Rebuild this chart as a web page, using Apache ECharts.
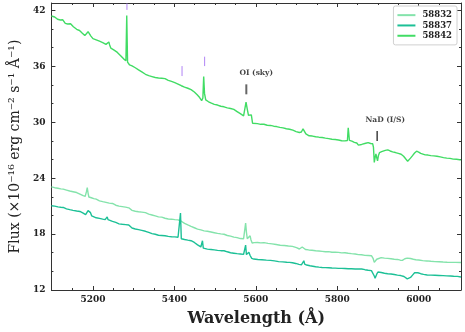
<!DOCTYPE html>
<html><head><meta charset="utf-8">
<script src="https://cdn.jsdelivr.net/npm/echarts@6/dist/echarts.min.js"></script>
<style>html,body{margin:0;padding:0;background:#fff}#c{width:465px;height:332px}</style>
</head><body><div id="c"></div>
<script>
// ---- data (wavelength Å, flux 1e-16 erg/cm2/s/Å) ----
const seriesNames = ['58832', '58837', '58842'];

const spec58842 = [
[5098,41.40],[5106,41.30],[5113,41.05],[5120,40.98],[5126,41.00],[5132,40.62],[5138,40.55],[5145,40.58],
[5152,40.25],[5160,39.98],[5167,39.85],[5174,39.55],[5180,39.30],[5184,39.45],[5188,39.72],[5191,39.65],
[5195,39.25],[5200,38.98],[5208,38.85],[5216,38.70],[5224,38.55],[5232,38.36],[5236,38.55],[5239,38.62],
[5241,38.30],[5244,37.95],[5252,37.75],[5260,37.50],[5268,37.15],[5276,36.78],[5281,36.60],[5283,41.45],
[5285,36.45],[5290,36.15],[5296,36.05],[5304,35.85],[5312,35.62],[5320,35.40],[5329,35.15],[5337,35.00],
[5345,34.90],[5353,34.80],[5361,34.75],[5369,34.72],[5377,34.68],[5385,34.50],[5393,34.38],[5401,34.25],
[5409,34.10],[5417,33.92],[5425,33.78],[5433,33.65],[5441,33.50],[5449,33.25],[5456,32.95],[5462,32.65],
[5467,32.32],[5470,32.60],[5472,34.90],[5474,33.10],[5477,32.40],[5484,32.20],[5491,32.05],[5498,31.92],
[5506,31.85],[5514,31.72],[5522,31.66],[5530,31.55],[5538,31.48],[5546,31.38],[5554,31.15],[5562,30.92],
[5570,30.68],[5574,30.55],[5576,32.15],[5579,31.40],[5582,30.75],[5586,30.95],[5589,30.80],[5592,29.90],
[5596,29.82],[5604,29.85],[5612,29.78],[5620,29.79],[5628,29.68],[5636,29.66],[5644,29.58],[5651,29.54],
[5659,29.45],[5667,29.40],[5675,29.30],[5683,29.25],[5691,29.15],[5699,29.00],[5707,28.90],[5712,28.95],
[5716,29.30],[5719,29.25],[5723,28.75],[5731,28.55],[5739,28.52],[5747,28.45],[5755,28.40],[5763,28.36],
[5771,28.30],[5779,28.25],[5787,28.18],[5795,28.15],[5803,28.10],[5811,28.02],[5819,28.00],[5825,28.05],
[5827,29.40],[5830,28.05],[5836,27.98],[5842,27.85],[5848,27.78],[5852,27.55],[5856,27.46],[5860,27.62],
[5864,27.80],[5870,27.75],[5876,27.82],[5882,27.72],[5887,27.70],[5889,27.30],[5891,25.70],[5893,26.20],
[5895,26.60],[5897,26.20],[5899,25.85],[5901,26.40],[5904,26.75],[5909,26.85],[5913,26.93],[5918,26.98],
[5924,27.04],[5930,26.92],[5936,26.82],[5943,26.75],[5950,26.66],[5957,26.57],[5963,26.35],[5968,26.08],
[5973,25.82],[5976,25.90],[5980,26.15],[5985,26.42],[5990,26.70],[5995,26.90],[6000,26.80],[6005,26.66],
[6009,26.57],[6016,26.50],[6023,26.48],[6030,26.42],[6037,26.39],[6045,26.35],[6053,26.28],[6061,26.21],
[6069,26.15],[6077,26.12],[6085,26.05],[6093,26.03],[6101,25.98],[6104,25.97]
];

const spec58832 = [
[5098,23.07],[5106,22.98],[5114,22.92],[5121,22.85],[5127,22.82],[5135,22.72],[5143,22.62],[5151,22.55],
[5160,22.46],[5168,22.30],[5176,22.12],[5181,22.05],[5184,22.55],[5186,22.98],[5188,22.40],[5190,21.98],
[5196,21.90],[5202,21.80],[5208,21.75],[5216,21.57],[5224,21.48],[5232,21.40],[5240,21.32],[5248,21.29],
[5256,21.10],[5264,21.00],[5272,20.95],[5280,20.90],[5288,20.82],[5296,20.55],[5304,20.45],[5312,20.40],
[5320,20.36],[5329,20.30],[5337,20.15],[5345,20.05],[5353,19.95],[5361,19.85],[5369,19.82],[5377,19.70],
[5385,19.62],[5393,19.60],[5401,19.55],[5409,19.52],[5417,19.38],[5425,19.15],[5433,18.98],[5441,18.82],
[5449,18.68],[5457,18.54],[5465,18.45],[5473,18.35],[5481,18.30],[5490,18.22],[5498,18.15],[5506,18.08],
[5514,18.02],[5522,17.98],[5530,17.85],[5538,17.78],[5546,17.68],[5554,17.62],[5562,17.52],[5570,17.50],
[5573,17.60],[5575,19.18],[5577,18.20],[5579,17.50],[5583,17.55],[5586,17.82],[5588,17.40],[5591,17.05],
[5596,17.08],[5604,17.10],[5612,17.06],[5620,17.08],[5630,17.00],[5640,16.95],[5650,16.88],[5660,16.80],
[5670,16.78],[5680,16.72],[5690,16.68],[5700,16.55],[5707,16.40],[5711,16.38],[5714,16.62],[5717,16.42],
[5722,16.35],[5730,16.30],[5738,16.26],[5747,16.21],[5755,16.18],[5763,16.15],[5771,16.10],[5779,16.12],
[5787,16.05],[5795,16.06],[5803,16.04],[5811,15.98],[5819,16.00],[5827,15.94],[5835,15.90],[5844,15.86],
[5852,15.80],[5860,15.78],[5868,15.72],[5876,15.70],[5884,15.68],[5888,15.40],[5891,14.96],[5894,15.10],
[5897,15.30],[5900,15.50],[5908,15.48],[5916,15.42],[5924,15.39],[5932,15.35],[5940,15.30],[5948,15.28],
[5955,15.20],[5960,15.18],[5966,15.35],[5972,15.42],[5980,15.38],[5987,15.30],[5993,15.25],[6000,15.22],
[6010,15.15],[6020,15.12],[6030,15.08],[6040,15.05],[6050,15.03],[6060,15.00],[6070,14.98],[6080,14.97],
[6090,14.96],[6104,14.95]
];

const spec58837 = [
[5098,21.04],[5106,21.00],[5114,20.92],[5121,20.88],[5127,20.86],[5135,20.71],[5143,20.62],[5151,20.55],
[5160,20.48],[5168,20.43],[5176,20.25],[5182,20.08],[5185,20.20],[5188,20.52],[5191,20.55],[5194,20.30],
[5197,19.95],[5200,19.85],[5208,19.75],[5216,19.68],[5224,19.60],[5230,19.55],[5233,19.62],[5235,19.85],
[5237,19.55],[5240,19.40],[5248,19.36],[5256,19.25],[5264,19.10],[5272,19.05],[5280,19.02],[5288,18.98],
[5296,18.65],[5304,18.55],[5312,18.48],[5320,18.40],[5329,18.30],[5337,18.18],[5345,18.05],[5353,17.98],
[5361,17.88],[5369,17.85],[5377,17.82],[5385,17.75],[5393,17.72],[5401,17.70],[5409,17.66],[5413,17.64],
[5415,20.25],[5417,17.50],[5425,17.42],[5433,17.35],[5441,17.29],[5449,17.10],[5457,16.85],[5465,16.62],
[5467,16.60],[5469,17.29],[5471,16.50],[5475,16.42],[5481,16.39],[5490,16.35],[5498,16.30],[5506,16.25],
[5514,16.22],[5522,16.21],[5530,16.10],[5538,16.00],[5546,15.95],[5554,15.90],[5562,15.86],[5570,15.82],
[5573,15.75],[5575,16.82],[5577,15.80],[5580,15.68],[5583,16.04],[5586,15.70],[5590,15.39],[5595,15.32],
[5605,15.28],[5615,15.25],[5626,15.21],[5636,15.18],[5646,15.12],[5656,15.05],[5666,15.02],[5676,14.98],
[5683,14.96],[5690,14.92],[5698,14.85],[5706,14.75],[5712,14.70],[5715,14.75],[5718,15.14],[5720,14.78],
[5725,14.68],[5733,14.60],[5740,14.55],[5747,14.50],[5755,14.45],[5763,14.42],[5771,14.40],[5779,14.38],
[5787,14.36],[5795,14.35],[5803,14.32],[5811,14.32],[5819,14.30],[5827,14.28],[5835,14.28],[5844,14.26],
[5852,14.25],[5860,14.25],[5868,14.18],[5876,14.12],[5884,14.08],[5888,14.02],[5891,13.50],[5893,13.25],
[5895,13.45],[5897,13.70],[5900,13.93],[5908,13.88],[5916,13.80],[5924,13.75],[5932,13.71],[5940,13.66],
[5948,13.60],[5956,13.55],[5964,13.45],[5968,13.30],[5972,13.20],[5976,13.18],[5980,13.35],[5985,13.60],
[5990,13.85],[5993,13.93],[5998,13.85],[6005,13.75],[6012,13.68],[6021,13.61],[6030,13.60],[6040,13.58],
[6050,13.56],[6060,13.54],[6069,13.52],[6078,13.50],[6086,13.48],[6095,13.46],[6104,13.40]
];

// line-marker annotations: [wavelength, flux bottom, flux top]
const purpleMarkers = [[5283.5, 42.06, 42.75], [5418.8, 34.96, 36.03], [5474.3, 36.03, 37.04]];
const oiMarker = [5576.7, 33.0, 34.07];
const nadMarker = [5898, 28.0, 29.07];
const annotationLabels = [['OI (sky)', 5601, 35.25], ['NaD (I/S)', 5918, 30.21]];

// axis ticks
const xMajorTicks = [5200, 5400, 5600, 5800, 6000];
const xMinorTicks = [5150, 5250, 5300, 5350, 5450, 5500, 5550, 5650, 5700, 5750, 5850, 5900, 5950, 6050];
const yMajorTicks = [12, 18, 24, 30, 36, 42];
const yMinorTicks = [14, 16, 20, 22, 26, 28, 32, 34, 38, 40];
const xRange = [5098, 6104];
const yRange = [12, 42.8];

// ---- chart ----
const colors = {'58832': '#84e3ab', '58837': '#1cc096', '58842': '#41dc64'};
const specs = {'58832': spec58832, '58837': spec58837, '58842': spec58842};
const serif = 'DejaVu Serif';
const axisColor = '#333';

function xAx(pos, ticks, len, labels, line) {
  return {
    type: 'value', position: pos, min: xRange[0], max: xRange[1],
    axisLine: {show: line, lineStyle: {color: axisColor, width: 1}},
    axisTick: {show: true, inside: true, length: len, customValues: ticks, lineStyle: {color: axisColor, width: 1}},
    axisLabel: labels ? {show: true, customValues: ticks, formatter: v => String(v), margin: 5, fontFamily: serif, fontWeight: 'bold', fontSize: 9, color: '#222'} : {show: false},
    splitLine: {show: false}
  };
}
function yAx(pos, ticks, len, labels, line) {
  return {
    type: 'value', position: pos, min: yRange[0], max: yRange[1],
    axisLine: {show: line, lineStyle: {color: axisColor, width: 1}},
    axisTick: {show: true, inside: true, length: len, customValues: ticks, lineStyle: {color: axisColor, width: 1}},
    axisLabel: labels ? {show: true, customValues: ticks, formatter: v => String(v), margin: 6, fontFamily: serif, fontWeight: 'bold', fontSize: 9, color: '#222'} : {show: false},
    splitLine: {show: false}
  };
}

const xAxes = [
  Object.assign(xAx('bottom', xMajorTicks, 4, true, true), {
    name: 'Wavelength (Å)', nameLocation: 'middle', nameGap: 21,
    nameTextStyle: {fontFamily: serif, fontWeight: 'bold', fontSize: 16, color: '#222'}
  }),
  xAx('bottom', xMinorTicks, 2, false, false),
  xAx('top', xMajorTicks, 4, false, true),
  xAx('top', xMinorTicks, 2, false, false)
];
const yAxes = [
  Object.assign(yAx('left', yMajorTicks, 4, true, true), {
    name: 'Flux (×10⁻¹⁶ erg cm⁻² s⁻¹ Å⁻¹)', nameLocation: 'middle', nameGap: 22,
    nameTextStyle: {fontFamily: serif, fontSize: 14, color: '#222'}
  }),
  yAx('left', yMinorTicks, 2, false, false),
  yAx('right', yMajorTicks, 4, false, true),
  yAx('right', yMinorTicks, 2, false, false)
];

const series = seriesNames.map(n => ({
  name: n, type: 'line', data: specs[n], showSymbol: false, symbol: 'none',
  lineStyle: {color: colors[n], width: 1.4}, itemStyle: {color: colors[n]},
  xAxisIndex: 0, yAxisIndex: 0, animation: false, z: 3
}));

purpleMarkers.forEach(m => series.push({
  type: 'line', data: [[m[0], m[1]], [m[0], m[2]]], symbol: 'none', silent: true,
  lineStyle: {color: '#b084f5', width: 1}, animation: false, z: 4
}));
series.push({type: 'line', data: [[oiMarker[0], oiMarker[1]], [oiMarker[0], oiMarker[2]]], symbol: 'none',
  lineStyle: {color: '#666', width: 2}, animation: false, z: 4});
series.push({type: 'line', data: [[nadMarker[0], nadMarker[1]], [nadMarker[0], nadMarker[2]]], symbol: 'none',
  lineStyle: {color: '#111', width: 1.2}, animation: false, z: 4});
series.push({
  type: 'scatter', symbolSize: 0, animation: false, z: 5,
  data: annotationLabels.map(a => ({name: a[0], value: [a[1], a[2]]})),
  label: {show: true, position: 'inside', formatter: p => p.name, fontFamily: serif, fontWeight: 'bold', fontSize: 7.5, color: '#111'}
});

const chart = echarts.init(document.getElementById('c'), null, {renderer: 'canvas'});
chart.setOption({
  backgroundColor: '#fff',
  animation: false,
  grid: {left: 44, right: 4, top: 3, bottom: 41},
  xAxis: xAxes,
  yAxis: yAxes,
  legend: {
    data: seriesNames, orient: 'vertical', right: 8, top: 6,
    backgroundColor: '#fff', borderColor: '#d0d0d0', borderWidth: 1, borderRadius: 2,
    padding: [4, 5, 4, 4], itemWidth: 18, itemHeight: 2, itemGap: 0, icon: 'rect',
    textStyle: {fontFamily: serif, fontSize: 8.5, fontWeight: 'bold', color: '#222', lineHeight: 10.3, padding: [0, 0, 0, 2]}
  },
  series: series
});
</script></body></html>
